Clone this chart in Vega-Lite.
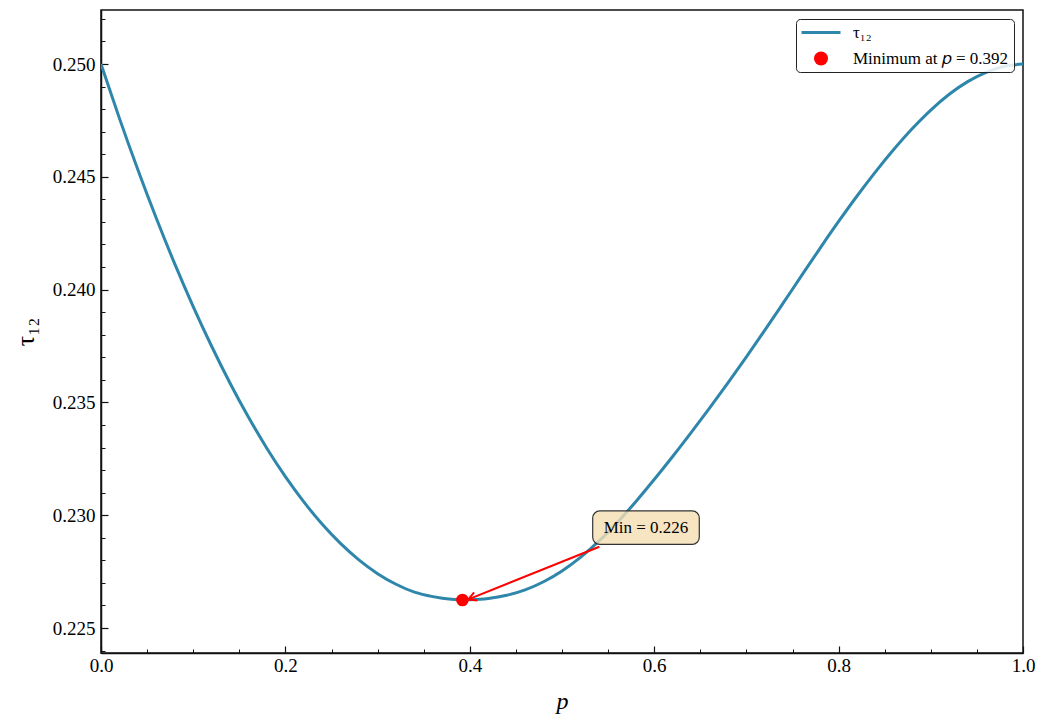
{
  "$schema": "https://vega.github.io/schema/vega-lite/v6.json",
  "autosize": "none",
  "width": 922,
  "height": 643,
  "padding": {"left": 101, "top": 10, "right": 24, "bottom": 74},
  "background": "white",
  "config": {
    "font": "Liberation Serif",
    "view": {"stroke": "#111111", "strokeWidth": 1.5},
    "axis": {"labelFont": "Liberation Serif", "titleFont": "Liberation Serif", "labelColor": "black", "titleColor": "black", "grid": false, "domainColor": "#111111", "domainWidth": 1.5, "tickColor": "#111111"}
  },
  "datasets": {
    "curve": [
      {"p": 0.00, "tau": 0.25000}, {"p": 0.02, "tau": 0.24759}, {"p": 0.04, "tau": 0.24531}, {"p": 0.06, "tau": 0.24316},
      {"p": 0.08, "tau": 0.24114}, {"p": 0.10, "tau": 0.23925}, {"p": 0.12, "tau": 0.23749}, {"p": 0.14, "tau": 0.23585},
      {"p": 0.16, "tau": 0.23434}, {"p": 0.18, "tau": 0.23296}, {"p": 0.20, "tau": 0.23171}, {"p": 0.22, "tau": 0.23059},
      {"p": 0.24, "tau": 0.22960}, {"p": 0.26, "tau": 0.22874}, {"p": 0.28, "tau": 0.22801}, {"p": 0.30, "tau": 0.22741},
      {"p": 0.32, "tau": 0.22694}, {"p": 0.34, "tau": 0.22659}, {"p": 0.36, "tau": 0.22639}, {"p": 0.38, "tau": 0.22627},
      {"p": 0.392, "tau": 0.22624}, {"p": 0.40, "tau": 0.22625}, {"p": 0.42, "tau": 0.22631}, {"p": 0.44, "tau": 0.22645},
      {"p": 0.46, "tau": 0.22669}, {"p": 0.48, "tau": 0.22705}, {"p": 0.50, "tau": 0.22753}, {"p": 0.52, "tau": 0.22813},
      {"p": 0.54, "tau": 0.22885}, {"p": 0.56, "tau": 0.22968}, {"p": 0.58, "tau": 0.23060}, {"p": 0.60, "tau": 0.23158},
      {"p": 0.62, "tau": 0.23260}, {"p": 0.64, "tau": 0.23366}, {"p": 0.66, "tau": 0.23475}, {"p": 0.68, "tau": 0.23587},
      {"p": 0.70, "tau": 0.23702}, {"p": 0.72, "tau": 0.23820}, {"p": 0.74, "tau": 0.23941}, {"p": 0.76, "tau": 0.24063},
      {"p": 0.78, "tau": 0.24184}, {"p": 0.80, "tau": 0.24302}, {"p": 0.82, "tau": 0.24415}, {"p": 0.84, "tau": 0.24522},
      {"p": 0.86, "tau": 0.24622}, {"p": 0.88, "tau": 0.24714}, {"p": 0.90, "tau": 0.24796}, {"p": 0.92, "tau": 0.24866},
      {"p": 0.94, "tau": 0.24922}, {"p": 0.96, "tau": 0.24963}, {"p": 0.98, "tau": 0.24990}, {"p": 1.00, "tau": 0.25000}
    ],
    "minpt": [{"p": 0.392, "tau": 0.22624}],
    "box": [{"p1": 0.5333, "p2": 0.6489, "t1": 0.22871, "t2": 0.23019}],
    "arrow": [{"p1": 0.5405, "t1": 0.22860, "p2": 0.3984, "t2": 0.22627}],
    "note": [{"p": 0.5911, "tau": 0.22945, "text": "Min = 0.226"}]
  },
  "resolve": {"axis": {"x": "independent", "y": "independent"}},
  "layer": [
    {
      "data": {"name": "curve"},
      "mark": {"type": "line", "strokeWidth": 3, "clip": true, "interpolate": "monotone"},
      "encoding": {
        "x": {"field": "p", "type": "quantitative",
          "scale": {"domain": [0, 1], "nice": false, "zero": false},
          "axis": {"orient": "bottom", "title": "p", "titleFontStyle": "italic", "titleFontSize": 24, "titleFontWeight": "normal", "titlePadding": 14,
            "values": [0, 0.2, 0.4, 0.6, 0.8, 1.0], "format": ".1f", "labelFontSize": 19, "tickSize": -7, "tickWidth": 1.2, "labelPadding": 10, "labelFlush": false}},
        "y": {"field": "tau", "type": "quantitative",
          "scale": {"domain": [0.223892, 0.252394], "nice": false, "zero": false},
          "axis": {"orient": "left", "title": "τ₁₂", "titleFontSize": 26, "titleFontWeight": "normal", "titlePadding": 14,
            "values": [0.225, 0.230, 0.235, 0.240, 0.245, 0.250], "format": ".3f", "labelFontSize": 19, "tickSize": -7, "tickWidth": 1.2, "labelPadding": 13}},
        "color": {"datum": "τ₁₂", "type": "nominal",
          "scale": {"domain": ["τ₁₂", "Minimum at 𝑝 = 0.392"], "range": ["#2E86AB", "#FF0000"]},
          "legend": {
            "title": null, "orient": "top-right", "offset": 9, "padding": 5,
            "strokeColor": "#222222", "fillColor": "rgba(255,255,255,0.85)", "cornerRadius": 4,
            "labelFont": "Liberation Serif", "labelFontSize": 17, "labelColor": "black",
            "symbolSize": 196, "rowPadding": 8, "labelLimit": 400,
            "encode": {
              "symbols": {"update": {
                "x": {"value": 20},
                "shape": {"signal": "datum.value === 'τ₁₂' ? 'stroke' : 'circle'"},
                "size": {"signal": "datum.value === 'τ₁₂' ? 1521 : 196"},
                "fill": {"signal": "datum.value === 'τ₁₂' ? 'transparent' : '#FF0000'"},
                "stroke": {"signal": "datum.value === 'τ₁₂' ? '#2E86AB' : 'transparent'"},
                "strokeWidth": {"signal": "datum.value === 'τ₁₂' ? 3 : 0"},
                "opacity": {"value": 1}
              }},
              "labels": {"update": {"x": {"value": 52}}}
            }
          }}
      }
    },
    {
      "data": {"name": "curve"},
      "mark": {"type": "point", "opacity": 0},
      "encoding": {
        "x": {"field": "p", "type": "quantitative",
          "axis": {"orient": "bottom", "title": null, "labels": false, "domain": false, "tickSize": -4, "tickWidth": 1,
            "values": [0.05, 0.1, 0.15, 0.25, 0.3, 0.35, 0.45, 0.5, 0.55, 0.65, 0.7, 0.75, 0.85, 0.9, 0.95]}},
        "y": {"field": "tau", "type": "quantitative",
          "axis": {"orient": "left", "title": null, "labels": false, "domain": false, "tickSize": -4, "tickWidth": 1,
            "values": [0.224, 0.226, 0.227, 0.228, 0.229, 0.231, 0.232, 0.233, 0.234, 0.236, 0.237, 0.238, 0.239, 0.241, 0.242, 0.243, 0.244, 0.246, 0.247, 0.248, 0.249, 0.251, 0.252]}}
      }
    },
    {
      "data": {"name": "minpt"},
      "mark": {"type": "point", "filled": true, "size": 160, "opacity": 1},
      "encoding": {
        "x": {"field": "p", "type": "quantitative", "axis": null},
        "y": {"field": "tau", "type": "quantitative", "axis": null},
        "color": {"datum": "Minimum at 𝑝 = 0.392", "type": "nominal"}
      }
    },
    {
      "data": {"name": "arrow"},
      "mark": {"type": "rule", "color": "#FF0000", "strokeWidth": 2},
      "encoding": {
        "x": {"field": "p1", "type": "quantitative", "axis": null},
        "y": {"field": "t1", "type": "quantitative", "axis": null},
        "x2": {"field": "p2"},
        "y2": {"field": "t2"}
      }
    },
    {
      "data": {"name": "arrow"},
      "mark": {"type": "point", "shape": "M -0.55 1 L 0 0 L 0.55 1", "filled": false, "stroke": "#FF0000", "strokeWidth": 2, "size": 256, "angle": 248, "opacity": 1},
      "encoding": {
        "x": {"field": "p2", "type": "quantitative", "axis": null},
        "y": {"field": "t2", "type": "quantitative", "axis": null}
      }
    },
    {
      "data": {"name": "box"},
      "mark": {"type": "rect", "fill": "#F5DEB3", "fillOpacity": 0.8, "stroke": "#333333", "strokeWidth": 1.2, "cornerRadius": 7},
      "encoding": {
        "x": {"field": "p1", "type": "quantitative", "axis": null},
        "x2": {"field": "p2"},
        "y": {"field": "t1", "type": "quantitative", "axis": null},
        "y2": {"field": "t2"}
      }
    },
    {
      "data": {"name": "note"},
      "mark": {"type": "text", "font": "Liberation Serif", "fontSize": 17, "color": "black", "align": "center", "baseline": "middle"},
      "encoding": {
        "x": {"field": "p", "type": "quantitative", "axis": null},
        "y": {"field": "tau", "type": "quantitative", "axis": null},
        "text": {"field": "text"}
      }
    }
  ]
}
